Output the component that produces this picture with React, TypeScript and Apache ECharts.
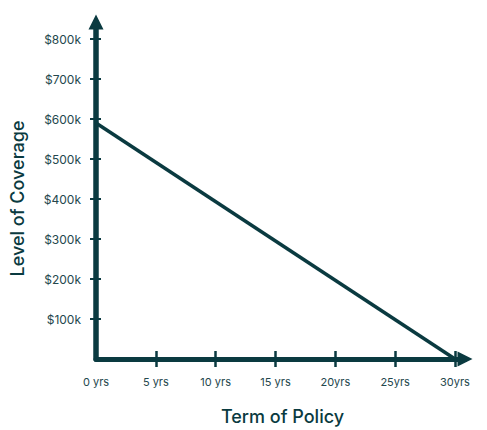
import React, { useEffect, useRef } from "react";
import * as echarts from "echarts";

const termLabels = ["0 yrs", "5 yrs", "10 yrs", "15 yrs", "20yrs", "25yrs", "30yrs"];
const coverageValues: (number | null)[] = [590000, null, null, null, null, null, 0];
const yMin = 0;
const yMax = 800000;
const yFirstTick = 100000;
const yStep = 100000;
const xAxisTitle = "Term of Policy";
const yAxisTitle = "Level of Coverage";

const INK = "#0a3a40";
const LABEL = "#24474d";
const FONT = "Inter, 'Noto Sans', sans-serif";

export default function App() {
  const ref = useRef<HTMLDivElement>(null);
  useEffect(() => {
    if (!ref.current) return;
    const chart = echarts.init(ref.current, undefined, { renderer: "svg" });
    const noBounds = { outerBoundsMode: "none", containLabel: false };
    chart.setOption({
      animation: false,
      backgroundColor: "#ffffff",
      grid: [
        { left: 96, right: 32, top: 39, bottom: 71, ...noBounds },
        { left: 96, right: 22, top: 22, bottom: 71, ...noBounds },
        { left: 96, right: 32, top: 39, bottom: 111, ...noBounds },
      ],
      xAxis: [
        {
          type: "category",
          gridIndex: 0,
          position: "bottom",
          data: termLabels,
          boundaryGap: false,
          axisLine: { show: false },
          axisTick: {
            show: true,
            length: 8,
            inside: false,
            interval: (i: number) => i !== 0,
            lineStyle: { color: INK, width: 2.5 },
          },
          axisLabel: { color: LABEL, fontSize: 11, fontFamily: FONT, margin: 17 },
          splitLine: { show: false },
        },
        {
          type: "category",
          gridIndex: 0,
          position: "bottom",
          data: termLabels,
          boundaryGap: false,
          axisLine: { show: false },
          axisTick: {
            show: true,
            length: 8,
            inside: true,
            interval: (i: number) => i !== 0,
            lineStyle: { color: INK, width: 2.5 },
          },
          axisLabel: { show: false },
          splitLine: { show: false },
        },
        {
          type: "value",
          gridIndex: 1,
          position: "bottom",
          min: 0,
          max: 1,
          axisLine: {
            show: true,
            onZero: false,
            symbol: ["none", "triangle"],
            symbolSize: [15, 15],
            lineStyle: { color: INK, width: 5, cap: "round" },
          },
          axisTick: { show: false },
          axisLabel: { show: false },
          splitLine: { show: false },
          name: xAxisTitle,
          nameLocation: "middle",
          nameGap: 48,
          nameTextStyle: { color: INK, fontSize: 18, fontFamily: FONT, fontWeight: 500, padding: [0, 0, 0, 4] },
        },
        {
          type: "value",
          gridIndex: 2,
          min: 0,
          max: 1,
          show: false,
        },
      ],
      yAxis: [
        {
          type: "value",
          gridIndex: 0,
          position: "left",
          min: yMin,
          max: yMax,
          interval: yStep,
          axisLine: { show: false },
          axisTick: { show: false },
          axisLabel: { show: false },
          splitLine: { show: false },
        },
        {
          type: "value",
          gridIndex: 2,
          position: "left",
          min: yFirstTick,
          max: yMax,
          interval: yStep,
          axisLine: { show: false },
          axisTick: { show: true, length: 6, inside: false, lineStyle: { color: INK, width: 2 } },
          axisLabel: {
            color: LABEL,
            fontSize: 12,
            fontFamily: FONT,
            margin: 15,
            formatter: (v: number) => "$" + v / 1000 + "k",
          },
          splitLine: { show: false },
        },
        {
          type: "value",
          gridIndex: 2,
          position: "left",
          min: yFirstTick,
          max: yMax,
          interval: yStep,
          axisLine: { show: false },
          axisTick: { show: true, length: 5, inside: true, lineStyle: { color: INK, width: 2 } },
          axisLabel: { show: false },
          splitLine: { show: false },
        },
        {
          type: "value",
          gridIndex: 1,
          position: "left",
          min: 0,
          max: 1,
          axisLine: {
            show: true,
            onZero: false,
            symbol: ["none", "triangle"],
            symbolSize: [15, 15],
            lineStyle: { color: INK, width: 5.5, cap: "round" },
          },
          axisTick: { show: false },
          axisLabel: { show: false },
          splitLine: { show: false },
          name: yAxisTitle,
          nameLocation: "middle",
          nameGap: 70,
          nameRotate: 90,
          nameTextStyle: { color: INK, fontSize: 18, fontFamily: FONT, fontWeight: 500, padding: [0, 16, 0, 0] },
        },
      ],
      series: [
        {
          type: "line",
          xAxisIndex: 0,
          yAxisIndex: 0,
          data: coverageValues,
          connectNulls: true,
          symbol: "none",
          lineStyle: { color: INK, width: 3.5 },
          z: 1,
        },
      ],
    });
    return () => chart.dispose();
  }, []);
  return (
    <div
      ref={ref}
      style={{ position: "fixed", left: 0, top: 0, width: 487, height: 430 }}
    />
  );
}
